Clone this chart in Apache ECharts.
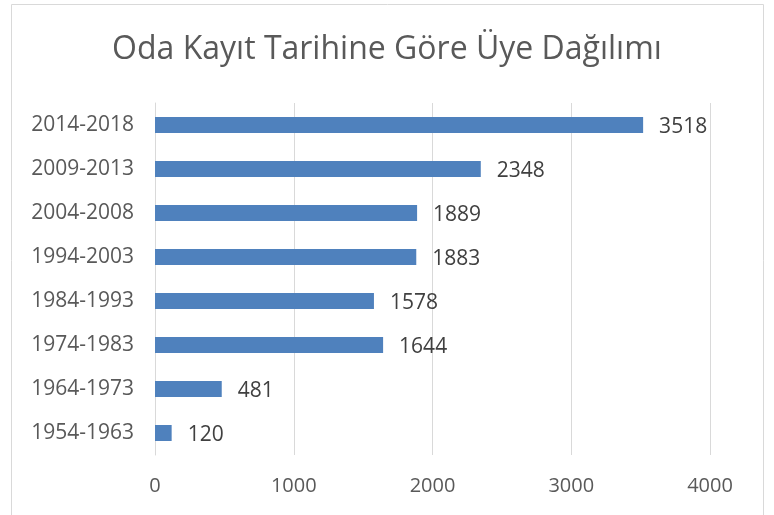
<!DOCTYPE html>
<html><head><meta charset="utf-8">
<script src="https://cdn.jsdelivr.net/npm/echarts@6/dist/echarts.min.js"></script>
<style>html,body{margin:0;padding:0;background:#fff}#c{width:774px;height:515px}</style>
</head><body><div id="c"></div>
<script>
const categories = ["1954-1963","1964-1973","1974-1983","1984-1993","1994-2003","2004-2008","2009-2013","2014-2018"];
const values = [120, 481, 1644, 1578, 1883, 1889, 2348, 3518];
const xTicks = [0, 1000, 2000, 3000, 4000];
const titleText = "Oda Kayıt Tarihine Göre Üye Dağılımı";

const chart = echarts.init(document.getElementById('c'));
const font = "'Open Sans', 'Noto Sans', sans-serif";
chart.setOption({
  animation: false,
  textStyle: { fontFamily: font },
  title: { text: titleText, left: 'center', top: 29,
    textStyle: { fontFamily: font, fontSize: 32, fontWeight: 'normal', color: '#595959' } },
  graphic: [{ type: 'rect', shape: { x: 11.5, y: 4.5, width: 752, height: 520 },
    style: { fill: 'none', stroke: '#d9d9d9', lineWidth: 1 }, silent: true }],
  grid: { left: 155, right: 64, top: 103, bottom: 60, containLabel: false },
  xAxis: { type: 'value', min: xTicks[0], max: xTicks[xTicks.length-1], interval: 1000,
    axisLine: { show: false }, axisTick: { show: false },
    axisLabel: { color: '#595959', fontSize: 20, margin: 21, fontFamily: font,
      formatter: v => String(v) },
    splitLine: { lineStyle: { color: '#d9d9d9', width: 1 } } },
  yAxis: { type: 'category', data: categories,
    axisLine: { show: true, lineStyle: { color: '#d9d9d9' } }, axisTick: { show: false },
    axisLabel: { color: '#595959', fontSize: 21, margin: 21, fontFamily: font } },
  series: [{ type: 'bar', data: values, barWidth: 16,
    itemStyle: { color: '#4F81BD' },
    label: { show: true, position: 'right', distance: 16, color: '#404040', fontSize: 21, fontFamily: font, offset: [0, 2] } }]
});
</script></body></html>
